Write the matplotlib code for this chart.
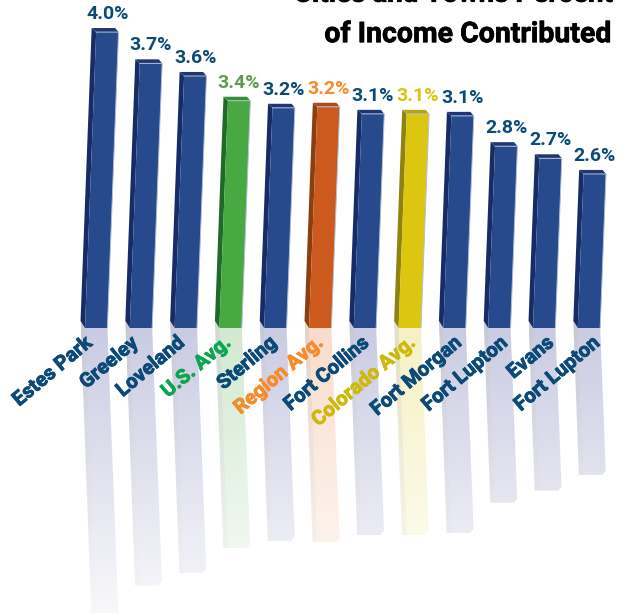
import numpy as np
import matplotlib
matplotlib.use('Agg')
import matplotlib.pyplot as plt
import matplotlib.patheffects as pe
from matplotlib.patches import Polygon
from matplotlib.colors import to_rgb

# labels as printed, bar values are read a bit finer from bar heights
cities = ['Estes Park', 'Greeley', 'Loveland', 'U.S. Avg.', 'Sterling', 'Region Avg.',
          'Fort Collins', 'Colorado Avg.', 'Fort Morgan', 'Fort Lupton', 'Evans', 'Fort Lupton']
pct_labels = ['4.0%', '3.7%', '3.6%', '3.4%', '3.2%', '3.2%', '3.1%', '3.1%', '3.1%', '2.8%', '2.7%', '2.6%']
values = [4.0, 3.69, 3.565, 3.32, 3.25, 3.26, 3.19, 3.19, 3.17, 2.87, 2.75, 2.595]
kinds = ['city', 'city', 'city', 'us', 'city', 'region', 'city', 'state', 'city', 'city', 'city', 'city']

BASE = 1.07
# front, side, top, percent text, name text, reflection tint
styles = {'city': ('#274a8c', '#172c66', '#1f3672', '#0b4a78', '#0b4a78', '#2a2f88'),
          'us': ('#48a841', '#1f6a28', '#3a8f3a', '#5f9a50', '#0aa650', '#48a841'),
          'region': ('#cc5a1e', '#8a3f10', '#a94c18', '#f68b2c', '#f68b2c', '#e8732a'),
          'state': ('#dcc60f', '#8f8210', '#b5a312', '#d8c40f', '#cdb90c', '#dcc60f')}
FONT = ['Roboto', 'DejaVu Sans']

W = 0.5      # bar width in index units
LEAN = 0.085 # sideways drift per value unit
DX, DY = 0.1, 0.04

fig = plt.figure(figsize=(6.26, 6.13), dpi=100)
ax = fig.add_axes([0, 0, 1, 1])


def draw_fade(poly, rgb, top, bottom, left, right, zorder):
    patch = Polygon(poly, closed=True, fc='none', ec='none')
    ax.add_patch(patch)
    a = np.linspace(0.25, 0.25 * (1 - (BASE - bottom) / 3.3), 64)
    img = np.ones((64, 1, 4))
    img[:, :, :3] = rgb
    img[:, 0, 3] = a
    im = ax.imshow(img, extent=(left, right, bottom, top), aspect='auto', zorder=zorder, interpolation='bilinear')
    im.set_clip_path(patch)


for i, (v, kind) in enumerate(zip(values, kinds)):
    front, side, topc, pct_c, name_c, tint = styles[kind]
    h = v - BASE
    sh = LEAN * h

    # reflection under the baseline
    L = h - 0.07
    rl = LEAN * L
    rgb = np.array(to_rgb(tint))
    side_rgb = rgb * 0.65
    end = BASE - L
    draw_fade([(i - DX, BASE + 0.07), (i, BASE), (i + rl, end), (i + rl - DX, end)],
              side_rgb, BASE + 0.07, end, i - DX, i + rl + W, 1)
    draw_fade([(i, BASE), (i + W, BASE), (i + W + rl, end + DY), (i + W + rl - 0.08, end), (i + rl, end)],
              rgb, BASE, end, i - DX, i + W + rl, 1)

    # the bar itself: side, top, front
    ax.add_patch(Polygon([(i - DX, BASE + 0.07), (i, BASE), (i + sh, v), (i + sh - DX, v + DY)],
                         fc=side, ec='none', zorder=3))
    ax.add_patch(Polygon([(i + sh, v), (i + W + sh, v), (i + W + sh - 0.075, v + DY), (i + sh - DX, v + DY)],
                         fc=topc, ec='none', zorder=3))
    ax.add_patch(Polygon([(i, BASE), (i + W, BASE), (i + W + sh, v), (i + sh, v)],
                         fc=front, ec='none', zorder=3))
    ax.plot([i + W, i + W + sh, i + sh], [BASE, v, v], color='#b4bfd8', lw=0.7, zorder=4)

    ax.text(i + sh + 0.25, v + 0.09, pct_labels[i], color=pct_c, fontsize=14, fontweight='bold',
            family=FONT, ha='center', va='bottom', zorder=5)
    ax.text(i * 1.03 - 0.03, BASE - 0.05, cities[i], color=name_c, fontsize=14.5, fontweight='bold',
            family=FONT, rotation=40, rotation_mode='anchor', ha='right', va='top', zorder=5,
            path_effects=[pe.withStroke(linewidth=0.6, foreground=name_c)])

ax.text(11.76, 3.90, 'of Income Contributed', color='black', fontsize=20.5, fontweight='bold',
        family=FONT, ha='right', va='baseline', path_effects=[pe.withStroke(linewidth=0.5, foreground='black')])
ax.text(11.76, 4.30, 'Cities and Towns Percent', color='black', fontsize=20, fontweight='bold',
        family=FONT, ha='right', va='baseline', path_effects=[pe.withStroke(linewidth=0.5, foreground='black')])

ax.set_xlim(-85 / 44.8, (626 - 85) / 44.8)
ax.set_ylim(BASE - 285 / 101, BASE + 328 / 101)
ax.axis('off')
fig.savefig('out.png', dpi=100)
